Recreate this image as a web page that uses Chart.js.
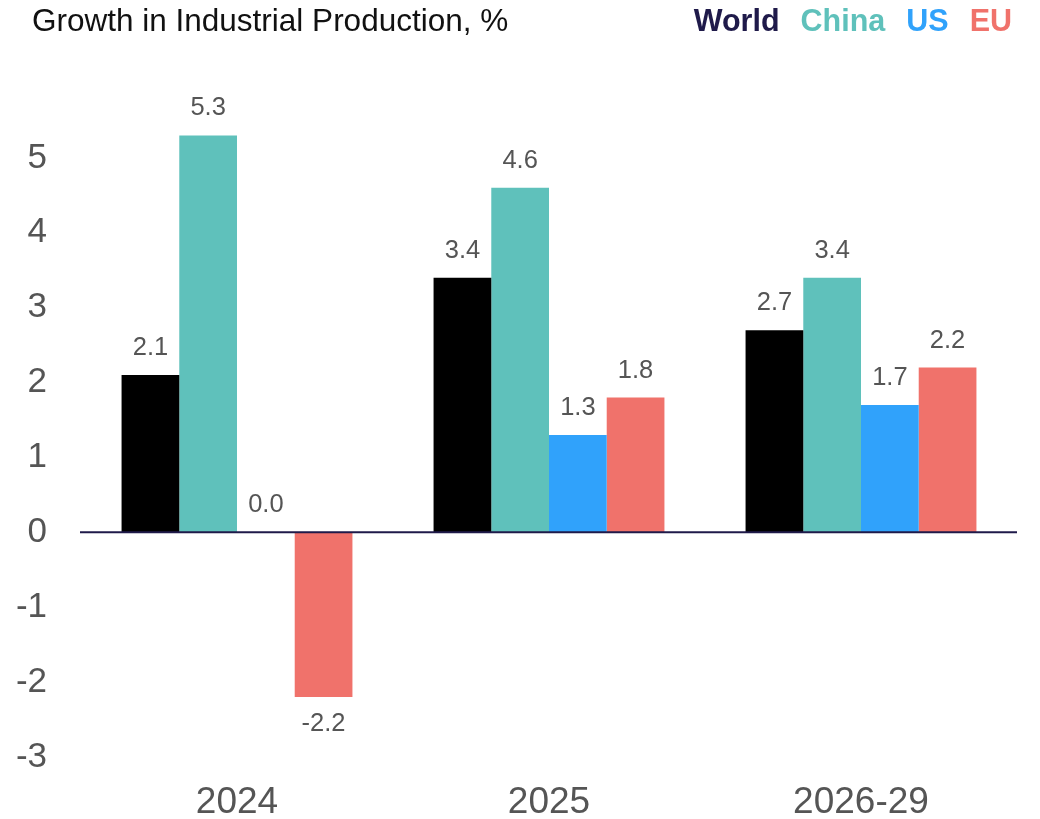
<!DOCTYPE html>
<html>
<head>
<meta charset="utf-8">
<script src="https://cdn.jsdelivr.net/npm/chart.js@4/dist/chart.umd.min.js"></script>
<style>
  html, body { margin: 0; padding: 0; background: #ffffff; }
  #wrap { width: 1040px; height: 819px; }
</style>
</head>
<body>
<div id="wrap"><canvas id="chart" width="1040" height="819"></canvas></div>
<script>
// Periods on the x axis
const periods = ['2024', '2025', '2026-29'];

// Growth in industrial production, % per region
const worldGrowth = [2.1, 3.4, 2.7];
const chinaGrowth = [5.3, 4.6, 3.4];
const usGrowth = [0.0, 1.3, 1.7];
const euGrowth = [-2.2, 1.8, 2.2];

const seriesNames = ['World', 'China', 'US', 'EU'];
const seriesColors = ['#000000', '#5fc1bb', '#30a2fb', '#f0726b'];
const legendColors = ['#1f1a4a', '#5fc1bb', '#30a2fb', '#f0726b'];

const chartTitle = 'Growth in Industrial Production, %';

const FONT = '"Liberation Sans", Arial, Helvetica, sans-serif';

// Title on the left and coloured series names on the right of the header row
const headerPlugin = {
  id: 'header',
  afterDraw(chart) {
    const ctx = chart.ctx;
    ctx.save();
    ctx.textBaseline = 'middle';
    ctx.textAlign = 'left';
    ctx.fillStyle = '#111111';
    ctx.font = '31.5px ' + FONT;
    ctx.fillText(chartTitle, 32, 22);

    ctx.font = 'bold 30.5px ' + FONT;
    const gap = 21;
    let x = 1012;
    for (let i = seriesNames.length - 1; i >= 0; i--) {
      const w = ctx.measureText(seriesNames[i]).width;
      x -= w;
      ctx.fillStyle = legendColors[i];
      ctx.fillText(seriesNames[i], x, 23);
      x -= gap;
    }
    ctx.restore();
  }
};

// Zero line across the plot area
const zeroLinePlugin = {
  id: 'zeroLine',
  afterDatasetsDraw(chart) {
    const y = chart.scales.y.getPixelForValue(0);
    const { left, right } = chart.chartArea;
    const ctx = chart.ctx;
    ctx.save();
    ctx.strokeStyle = '#1f1a4a';
    ctx.lineWidth = 2;
    ctx.beginPath();
    ctx.moveTo(left - 1, y);
    ctx.lineTo(right, y);
    ctx.stroke();
    ctx.restore();
  }
};

// Value labels above positive bars and below negative ones
const valueLabelPlugin = {
  id: 'valueLabels',
  afterDatasetsDraw(chart) {
    const ctx = chart.ctx;
    ctx.save();
    ctx.font = '25.5px ' + FONT;
    ctx.fillStyle = '#555555';
    ctx.textAlign = 'center';
    ctx.textBaseline = 'middle';
    chart.data.datasets.forEach((ds, di) => {
      const meta = chart.getDatasetMeta(di);
      meta.data.forEach((bar, i) => {
        const v = ds.data[i];
        const y = v < 0 ? bar.y + 27 : bar.y - 27;
        ctx.fillText(v.toFixed(1), bar.x, y);
      });
    });
    ctx.restore();
  }
};

const datasets = [worldGrowth, chinaGrowth, usGrowth, euGrowth].map((values, i) => ({
  label: seriesNames[i],
  data: values,
  backgroundColor: seriesColors[i],
  borderWidth: 0,
  barPercentage: 1.0,
  categoryPercentage: 0.74
}));

new Chart(document.getElementById('chart'), {
  type: 'bar',
  data: { labels: periods, datasets },
  options: {
    responsive: false,
    animation: false,
    layout: { padding: { top: 98, right: 23, left: 0, bottom: 0 } },
    plugins: {
      legend: { display: false },
      title: { display: false },
      tooltip: { enabled: false }
    },
    scales: {
      x: {
        grid: { display: false, drawTicks: false },
        border: { display: false },
        ticks: {
          color: '#555555',
          font: { size: 37, family: FONT },
          padding: 24
        },
        afterFit(scale) { scale.height = 62; }
      },
      y: {
        min: -3,
        max: 5.8,
        grid: { display: false, drawTicks: false },
        border: { display: false },
        ticks: {
          stepSize: 1,
          includeBounds: false,
          color: '#555555',
          font: { size: 35, family: FONT },
          padding: 34
        },
        afterFit(scale) { scale.width = 81; }
      }
    }
  },
  plugins: [headerPlugin, zeroLinePlugin, valueLabelPlugin]
});
</script>
</body>
</html>
